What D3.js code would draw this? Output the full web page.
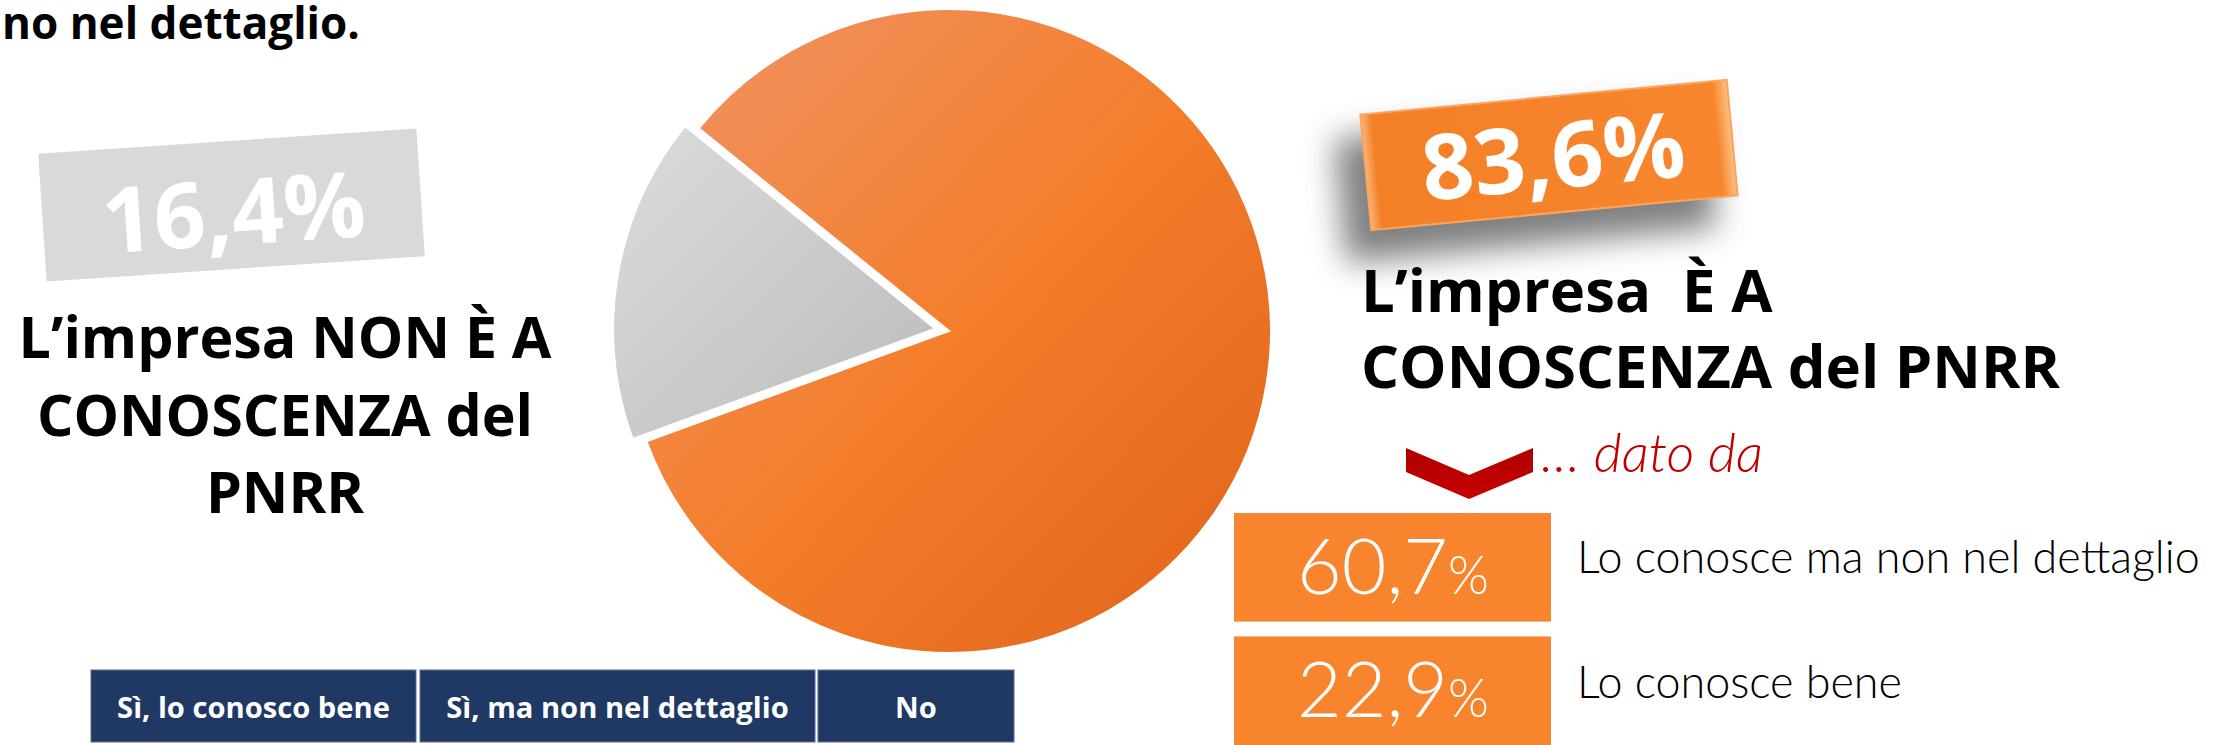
<!DOCTYPE html>
<html lang="it">
<head>
<meta charset="utf-8">
<title>Conoscenza del PNRR</title>
<script src="https://cdn.jsdelivr.net/npm/d3@7"></script>
<style>
  html, body { margin: 0; padding: 0; background: #ffffff; }
  svg { display: block; }
</style>
</head>
<body>
<script>
// Answer categories and their shares (%)
const categories = ["Sì, lo conosco bene", "Sì, ma non nel dettaglio", "No"];
const values = [22.9, 60.7, 16.4];
// Breakdown of the "Sì" share, in display order
const breakdownLabels = ["Lo conosce ma non nel dettaglio", "Lo conosce bene"];
const breakdownValues = [60.7, 22.9];
// Headline labels
const noLabelLines = ["L’impresa NON È A", "CONOSCENZA del", "PNRR"];
const yesLabelLines = ["L’impresa  È A", "CONOSCENZA del PNRR"];
const headerTail = "no nel dettaglio.";
const breakdownIntro = "… dato da";

const W = 2228, H = 745;
const BOLD = "'Open Sans', Lato, 'DejaVu Sans', sans-serif";
const LIGHT = "Lato, 'Open Sans', 'DejaVu Sans', sans-serif";

const it = d3.formatLocale({decimal: ",", thousands: ".", grouping: [3], currency: ["€", ""]});
const fmt = it.format(".1f");

const yesTotal = values[0] + values[1];
const noTotal = values[2];
const pieData = [
  {key: "Sì", value: yesTotal},
  {key: "No", value: noTotal}
];

const svg = d3.select("body").append("svg")
  .attr("width", W).attr("height", H)
  .attr("viewBox", `0 0 ${W} ${H}`);

const defs = svg.append("defs");

const gOrange = defs.append("linearGradient").attr("id", "gradOrange")
  .attr("x1", 0).attr("y1", 0).attr("x2", 1).attr("y2", 1);
gOrange.append("stop").attr("offset", "0%").attr("stop-color", "#EF9466");
gOrange.append("stop").attr("offset", "50%").attr("stop-color", "#F47E2C");
gOrange.append("stop").attr("offset", "100%").attr("stop-color", "#DF6218");

const gGray = defs.append("linearGradient").attr("id", "gradGray")
  .attr("x1", 0).attr("y1", 0).attr("x2", 1).attr("y2", 1);
gGray.append("stop").attr("offset", "0%").attr("stop-color", "#DCDCDC");
gGray.append("stop").attr("offset", "100%").attr("stop-color", "#BBBBBB");

const gBox = defs.append("linearGradient").attr("id", "gradBox")
  .attr("x1", 0).attr("y1", 0).attr("x2", 1).attr("y2", 0);
gBox.append("stop").attr("offset", "0%").attr("stop-color", "#FBB577");
gBox.append("stop").attr("offset", "3%").attr("stop-color", "#F38027");
gBox.append("stop").attr("offset", "96%").attr("stop-color", "#F8862E");
gBox.append("stop").attr("offset", "100%").attr("stop-color", "#FDC283");

const gChev = defs.append("linearGradient").attr("id", "gradChev")
  .attr("x1", 0).attr("y1", 0).attr("x2", 0).attr("y2", 1);
gChev.append("stop").attr("offset", "0%").attr("stop-color", "#B00000");
gChev.append("stop").attr("offset", "100%").attr("stop-color", "#C80000");

defs.append("filter").attr("id", "softShadow")
  .attr("x", "-50%").attr("y", "-60%").attr("width", "200%").attr("height", "220%")
  .append("feGaussianBlur").attr("stdDeviation", 16);

// width fitting for text blocks
function fitTo(sel, target) {
  const len = sel.node().getComputedTextLength();
  const fs = parseFloat(sel.attr("font-size"));
  const nfs = fs * target / len;
  sel.attr("font-size", nfs);
  return nfs;
}

// ---- header tail
const head = svg.append("text")
  .attr("x", 2).attr("y", 39)
  .attr("font-family", BOLD).attr("font-weight", 700)
  .attr("font-size", 45).attr("fill", "#000")
  .text(headerTail);
fitTo(head, 358);

// ---- pie
const cx = 949, cy = 331, R = 322;
const start = -51 * Math.PI / 180;
const pie = d3.pie().value(d => d.value).sort(null)
  .startAngle(start).endAngle(start + 2 * Math.PI);
const arc = d3.arc().innerRadius(0).outerRadius(R);
const arcs = pie(pieData);
const explode = 14;

svg.append("g").attr("transform", `translate(${cx},${cy})`)
  .selectAll("path").data(arcs).join("path")
  .attr("transform", d => {
    if (d.data.key !== "No") return null;
    const m = (d.startAngle + d.endAngle) / 2;
    return `translate(${explode * Math.sin(m)},${-explode * Math.cos(m)})`;
  })
  .attr("d", arc)
  .attr("fill", d => d.data.key === "No" ? "url(#gradGray)" : "url(#gradOrange)")
  .attr("stroke", "#fff").attr("stroke-width", 2).attr("stroke-linejoin", "miter");

// ---- "No" value tag (tilted gray plate)
const noTag = svg.append("g").attr("transform", "translate(231,205) rotate(-3.8)");
noTag.append("rect").attr("x", -189).attr("y", -64).attr("width", 379).attr("height", 128)
  .attr("fill", "#D9D9D9");
const noVal = noTag.append("text").attr("x", 2).attr("y", 40)
  .attr("text-anchor", "middle")
  .attr("font-family", BOLD).attr("font-weight", 700).attr("font-size", 88)
  .attr("fill", "#fff").text(fmt(noTotal) + "%");
fitTo(noVal, 264);

// ---- "No" caption
const noCap = svg.append("g").attr("font-family", BOLD).attr("font-weight", 700).attr("fill", "#000");
const noBase = [358, 436, 513];
const noLines = noCap.selectAll("text").data(noLabelLines).join("text")
  .attr("x", 285).attr("y", (d, i) => noBase[i])
  .attr("text-anchor", "middle").attr("font-size", 58).text(d => d);
const noFs = fitTo(d3.select(noLines.nodes()[0]), 533);
noLines.attr("font-size", noFs);

// ---- "Sì" value tag (tilted orange plate with shadow)
const yesTag = svg.append("g").attr("transform", "translate(1549,155) rotate(-5.4)");
yesTag.append("rect").attr("x", -212).attr("y", -36).attr("width", 372).attr("height", 124)
  .attr("fill", "#5e5e5e").attr("opacity", 0.8).attr("filter", "url(#softShadow)");
yesTag.append("rect").attr("x", -184).attr("y", -58).attr("width", 368).attr("height", 116)
  .attr("fill", "url(#gradBox)");
yesTag.append("rect").attr("x", -184).attr("y", -58).attr("width", 368).attr("height", 116)
  .attr("fill", "none").attr("stroke", "#F9A55D").attr("stroke-width", 2);
const yesVal = yesTag.append("text").attr("x", 4).attr("y", 34)
  .attr("text-anchor", "middle")
  .attr("font-family", BOLD).attr("font-weight", 700).attr("font-size", 88)
  .attr("fill", "#fff").text(fmt(yesTotal) + "%");
fitTo(yesVal, 264);

// ---- "Sì" caption
const yesCap = svg.append("g").attr("font-family", BOLD).attr("font-weight", 700).attr("fill", "#000");
const yesBase = [312, 388];
const yesLines = yesCap.selectAll("text").data(yesLabelLines).join("text")
  .attr("x", 1361).attr("y", (d, i) => yesBase[i])
  .attr("font-size", 58).style("white-space", "pre").text(d => d);
const yesFs = fitTo(d3.select(yesLines.nodes()[1]), 699);
yesLines.attr("font-size", yesFs);

// ---- chevron and intro
svg.append("path")
  .attr("d", "M1406,448 L1469,475 L1533,448 L1533,472 L1469,499 L1406,472 Z")
  .attr("fill", "url(#gradChev)");
const intro = svg.append("text").attr("x", 1541).attr("y", 472)
  .attr("font-family", LIGHT).attr("font-weight", 300).attr("font-style", "italic")
  .attr("font-size", 44).attr("fill", "#C00000").text(breakdownIntro);
fitTo(intro, 222);

// ---- breakdown boxes
const rowY = d3.scaleBand().domain(breakdownLabels).range([513, 745]).paddingInner(0.12);
const rows = svg.append("g").selectAll("g").data(breakdownLabels.map((l, i) => ({label: l, value: breakdownValues[i]})))
  .join("g").attr("transform", d => `translate(0,${rowY(d.label)})`);
rows.append("rect").attr("x", 1234).attr("y", 0).attr("width", 317).attr("height", rowY.bandwidth())
  .attr("fill", "#F8852E");
const valTexts = rows.append("text").attr("x", 1393).attr("y", 81)
  .attr("text-anchor", "middle")
  .attr("font-family", LIGHT).attr("font-weight", 300).attr("font-size", 72).attr("fill", "#fff");
valTexts.append("tspan").text(d => fmt(d.value));
valTexts.append("tspan").attr("font-size", "0.68em").text("%");
const vfs = fitTo(d3.select(valTexts.nodes()[0]), 192);
valTexts.attr("font-size", vfs);
const labTexts = rows.append("text").attr("x", 1577).attr("y", (d, i) => i === 0 ? 60 : 62)
  .attr("font-family", LIGHT).attr("font-weight", 300).attr("font-size", 42).attr("fill", "#000")
  .text(d => d.label);
const lfs = fitTo(d3.select(labTexts.nodes()[0]), 623);
labTexts.attr("font-size", lfs);

// ---- category legend
const cellW = [325, 395, 196];
const cellX = [91, 420, 818];
const legend = svg.append("g").selectAll("g").data(categories).join("g")
  .attr("transform", (d, i) => `translate(${cellX[i]},670)`);
legend.append("rect").attr("width", (d, i) => cellW[i]).attr("height", 72)
  .attr("fill", "#203864").attr("stroke", "#5A6E95").attr("stroke-width", 1);
const legTexts = legend.append("text").attr("x", (d, i) => cellW[i] / 2).attr("y", 48)
  .attr("text-anchor", "middle")
  .attr("font-family", BOLD).attr("font-weight", 700).attr("font-size", 28).attr("fill", "#fff")
  .text(d => d);
const tfs = fitTo(d3.select(legTexts.nodes()[0]), 273);
legTexts.attr("font-size", tfs);
</script>
</body>
</html>
